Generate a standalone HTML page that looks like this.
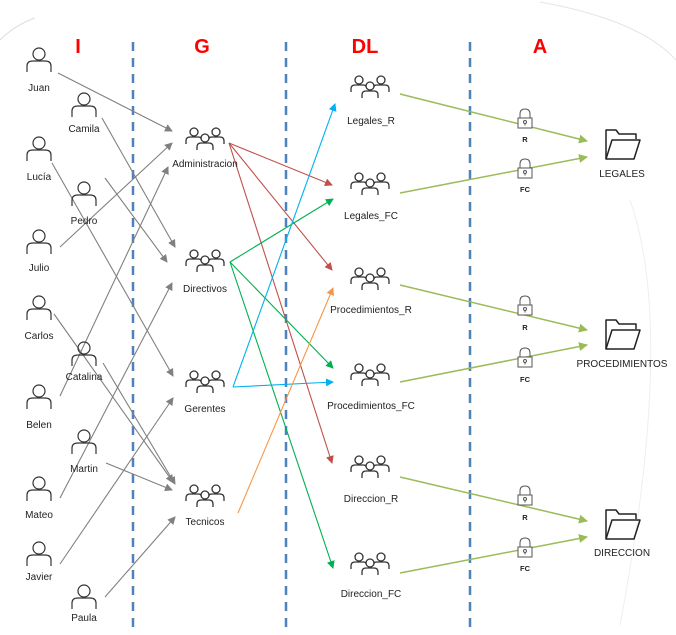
<!DOCTYPE html>
<html><head><meta charset="utf-8"><style>
html,body{margin:0;padding:0;background:#fff;}
svg{display:block;}
text{font-family:"Liberation Sans",sans-serif;}
</style></head><body>
<svg width="676" height="635" viewBox="0 0 676 635" xmlns="http://www.w3.org/2000/svg">
<defs>
<symbol id="p" viewBox="-14 -14 28 28" overflow="visible">
<circle cx="0" cy="-6" r="6" fill="none" stroke="#333" stroke-width="1.2"/>
<path d="M-12 12 V6 Q-12 1 -6 1 H6 Q12 1 12 6 V12" fill="none" stroke="#333" stroke-width="1.2"/>
</symbol>
<symbol id="g" viewBox="-20 -14 40 28" overflow="visible">
<g fill="none" stroke="#333" stroke-width="1.3">
<circle cx="-11" cy="-8" r="4"/><circle cx="11" cy="-8" r="4"/><circle cx="0" cy="-2" r="4"/>
<path d="M-19 4 V1 Q-19 -3 -15 -3 H-7 Q-4 -3 -4 -1"/>
<path d="M19 4 V1 Q19 -3 15 -3 H7 Q4 -3 4 -1"/>
<path d="M-8 10 V7 Q-8 3 -4 3 H4 Q8 3 8 7 V10"/>
</g></symbol>
<symbol id="l" viewBox="-8 -10 16 20" overflow="visible">
<g fill="none" stroke="#555" stroke-width="1">
<path d="M-5 -1 V-5 Q-5 -10 0 -10 Q5 -10 5 -5 V-1"/>
<rect x="-7" y="-1" width="14" height="10" fill="#fff"/>
<circle cx="0" cy="3" r="1.5"/><path d="M0 4.5 V6.5"/>
</g></symbol>
<symbol id="f" viewBox="-20 -16 40 32" overflow="visible">
<g fill="none" stroke="#222" stroke-width="1.5" stroke-linejoin="round">
<path d="M-16 15 V-14 H-6 L-3 -10 H14 V-5"/>
<path d="M-16 15 L-10 -4 H18 L12 15 Z"/>
</g></symbol>
<marker id="ag" markerWidth="8" markerHeight="8" refX="7" refY="4" orient="auto" markerUnits="userSpaceOnUse"><path d="M0 0 L8 4 L0 8Z" fill="#808080"/></marker>
<marker id="ar" markerWidth="8" markerHeight="8" refX="7" refY="4" orient="auto" markerUnits="userSpaceOnUse"><path d="M0 0 L8 4 L0 8Z" fill="#c0504d"/></marker>
<marker id="an" markerWidth="8" markerHeight="8" refX="7" refY="4" orient="auto" markerUnits="userSpaceOnUse"><path d="M0 0 L8 4 L0 8Z" fill="#00b050"/></marker>
<marker id="ab" markerWidth="8" markerHeight="8" refX="7" refY="4" orient="auto" markerUnits="userSpaceOnUse"><path d="M0 0 L8 4 L0 8Z" fill="#00b0f0"/></marker>
<marker id="ao" markerWidth="8" markerHeight="8" refX="7" refY="4" orient="auto" markerUnits="userSpaceOnUse"><path d="M0 0 L8 4 L0 8Z" fill="#f79646"/></marker>
<marker id="ay" markerWidth="9" markerHeight="9" refX="8" refY="4.5" orient="auto" markerUnits="userSpaceOnUse"><path d="M0 0 L9 4.5 L0 9Z" fill="#9bbb59"/></marker>
</defs>

<!-- background arcs -->
<path d="M0 40 Q15 25 35 18" fill="none" stroke="#ddd" stroke-width="1"/>
<path d="M540 2 Q640 20 676 60" fill="none" stroke="#e4e4e4" stroke-width="1"/>
<path d="M630 200 Q676 330 620 625" fill="none" stroke="#eee" stroke-width="1"/>

<!-- dashed separators -->
<g stroke="#4f81bd" stroke-width="2.5" stroke-dasharray="9,7">
<line x1="133" y1="42" x2="133" y2="630"/>
<line x1="286" y1="42" x2="286" y2="630"/>
<line x1="470" y1="42" x2="470" y2="630"/>
</g>

<!-- headers -->
<g fill="#ff0000" font-weight="bold" font-size="20" text-anchor="middle">
<text x="78" y="53">I</text><text x="202" y="53">G</text><text x="365" y="53">DL</text><text x="540" y="53">A</text>
</g>

<!-- gray connectors -->
<g stroke="#808080" stroke-width="1.1" fill="none" marker-end="url(#ag)">
<line x1="58" y1="73" x2="172" y2="131"/>
<line x1="102" y1="118" x2="175" y2="247"/>
<line x1="52" y1="163" x2="173" y2="376"/>
<line x1="60" y1="247" x2="172" y2="143"/>
<line x1="105" y1="178" x2="167" y2="262"/>
<line x1="54" y1="314" x2="173" y2="482"/>
<line x1="103" y1="363" x2="175" y2="484"/>
<line x1="60" y1="396" x2="168" y2="167"/>
<line x1="106" y1="463" x2="172" y2="490"/>
<line x1="60" y1="498" x2="172" y2="283"/>
<line x1="60" y1="564" x2="173" y2="398"/>
<line x1="105" y1="597" x2="175" y2="517"/>
</g>

<!-- colored -->
<g stroke-width="1.1" fill="none">
<g stroke="#c0504d" marker-end="url(#ar)">
<line x1="229" y1="143" x2="332" y2="185"/>
<line x1="229" y1="143" x2="332" y2="270"/>
<line x1="229" y1="143" x2="332" y2="463"/>
</g>
<g stroke="#00b050" marker-end="url(#an)">
<line x1="230" y1="262" x2="333" y2="199"/>
<line x1="230" y1="262" x2="333" y2="368"/>
<line x1="230" y1="262" x2="333" y2="568"/>
</g>
<g stroke="#00b0f0" marker-end="url(#ab)">
<line x1="233" y1="387" x2="335" y2="104"/>
<line x1="233" y1="387" x2="333" y2="382"/>
</g>
<g stroke="#f79646" marker-end="url(#ao)">
<line x1="238" y1="513" x2="333" y2="288"/>
</g>
<g stroke="#9bbb59" stroke-width="1.5" marker-end="url(#ay)">
<line x1="400" y1="94" x2="587" y2="141"/>
<line x1="400" y1="193" x2="587" y2="157"/>
<line x1="400" y1="285" x2="587" y2="330"/>
<line x1="400" y1="382" x2="587" y2="345"/>
<line x1="400" y1="477" x2="587" y2="521"/>
<line x1="400" y1="573" x2="587" y2="537"/>
</g>
</g>

<!-- persons -->
<g>
<use href="#p" x="25" y="46" width="28" height="28"/>
<use href="#p" x="70" y="91" width="28" height="28"/>
<use href="#p" x="25" y="135" width="28" height="28"/>
<use href="#p" x="70" y="180" width="28" height="28"/>
<use href="#p" x="25" y="228" width="28" height="28"/>
<use href="#p" x="25" y="294" width="28" height="28"/>
<use href="#p" x="70" y="340" width="28" height="28"/>
<use href="#p" x="25" y="383" width="28" height="28"/>
<use href="#p" x="70" y="428" width="28" height="28"/>
<use href="#p" x="25" y="475" width="28" height="28"/>
<use href="#p" x="25" y="540" width="28" height="28"/>
<use href="#p" x="70" y="583" width="28" height="28"/>
</g>
<g font-size="10" fill="#222" text-anchor="middle">
<text x="39" y="91">Juan</text>
<text x="84" y="132">Camila</text>
<text x="39" y="180">Lucía</text>
<text x="84" y="224">Pedro</text>
<text x="39" y="271">Julio</text>
<text x="39" y="339">Carlos</text>
<text x="84" y="380">Catalina</text>
<text x="39" y="428">Belen</text>
<text x="84" y="472">Martin</text>
<text x="39" y="518">Mateo</text>
<text x="39" y="580">Javier</text>
<text x="84" y="621">Paula</text>
</g>

<!-- groups -->
<g>
<use href="#g" x="185" y="126" width="40" height="28"/>
<use href="#g" x="185" y="248" width="40" height="28"/>
<use href="#g" x="185" y="369" width="40" height="28"/>
<use href="#g" x="185" y="483" width="40" height="28"/>
<use href="#g" x="350" y="74" width="40" height="28"/>
<use href="#g" x="350" y="171" width="40" height="28"/>
<use href="#g" x="350" y="266" width="40" height="28"/>
<use href="#g" x="350" y="362" width="40" height="28"/>
<use href="#g" x="350" y="454" width="40" height="28"/>
<use href="#g" x="350" y="551" width="40" height="28"/>
</g>
<g font-size="10" fill="#222" text-anchor="middle">
<text x="205" y="167">Administracion</text>
<text x="205" y="292">Directivos</text>
<text x="205" y="412">Gerentes</text>
<text x="205" y="525">Tecnicos</text>
<text x="371" y="124">Legales_R</text>
<text x="371" y="219">Legales_FC</text>
<text x="371" y="313">Procedimientos_R</text>
<text x="371" y="409">Procedimientos_FC</text>
<text x="371" y="502">Direccion_R</text>
<text x="371" y="597">Direccion_FC</text>
</g>

<!-- locks -->
<g>
<use href="#l" x="517" y="109" width="16" height="20"/>
<use href="#l" x="517" y="159" width="16" height="20"/>
<use href="#l" x="517" y="296" width="16" height="20"/>
<use href="#l" x="517" y="348" width="16" height="20"/>
<use href="#l" x="517" y="486" width="16" height="20"/>
<use href="#l" x="517" y="538" width="16" height="20"/>
</g>
<g font-size="7.5" fill="#222" text-anchor="middle" font-weight="bold">
<text x="525" y="142">R</text><text x="525" y="192">FC</text>
<text x="525" y="330">R</text><text x="525" y="382">FC</text>
<text x="525" y="520">R</text><text x="525" y="571">FC</text>
</g>

<!-- folders -->
<g>
<use href="#f" x="602" y="128" width="40" height="32"/>
<use href="#f" x="602" y="318" width="40" height="32"/>
<use href="#f" x="602" y="508" width="40" height="32"/>
</g>
<g font-size="10" fill="#222" text-anchor="middle">
<text x="622" y="177">LEGALES</text>
<text x="622" y="367">PROCEDIMIENTOS</text>
<text x="622" y="556">DIRECCION</text>
</g>
</svg>
</body></html>
